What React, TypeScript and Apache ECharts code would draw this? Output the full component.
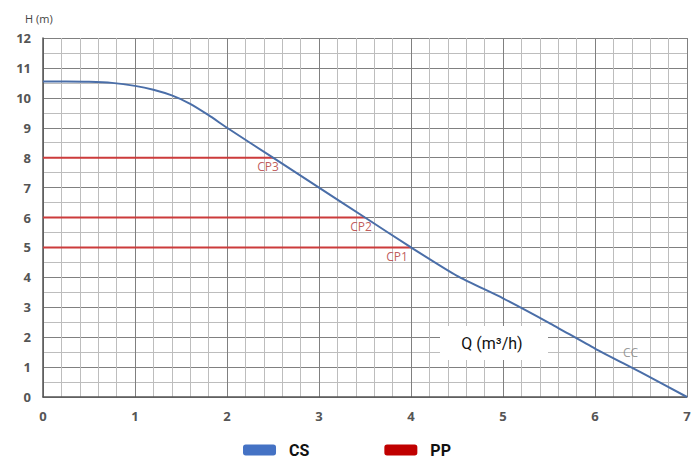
import React, { useEffect, useRef } from "react";
import * as echarts from "echarts";

const csQ = [0, 0.25, 0.5, 0.75, 1, 1.2, 1.4, 1.6, 1.8, 2, 2.5, 3, 3.5, 4, 4.5, 5, 5.5, 6, 6.5, 7];
const csH = [10.55, 10.55, 10.54, 10.5, 10.4, 10.27, 10.08, 9.8, 9.42, 9.0, 8.0, 7.0, 6.0, 5.0, 4.05, 3.3, 2.48, 1.62, 0.82, 0];
const ppH = [8, 6, 5];
const ppQ = [2.5, 3.5, 4];
const ppLabels = ["CP3", "CP2", "CP1"];
const labelOffsets = [[-5, 0], [-4, 0], [-14, 0]];

export default function App() {
  const ref = useRef<HTMLDivElement>(null);
  useEffect(() => {
    const chart = echarts.init(ref.current!, null, { renderer: "svg" });
    const ppSeries = ppH.map((h, i) => ({
      name: "PP",
      type: "line",
      data: [[0, h], [ppQ[i], h]],
      symbol: "none",
      lineStyle: { color: "#cc3b3b", width: 2 },
      itemStyle: { color: "#c00000" },
      z: 3,
    }));
    const labelData = ppLabels.map((l, i) => ({
      value: [ppQ[i], ppH[i]],
      name: l,
      label: { offset: labelOffsets[i] },
    }));
    chart.setOption({
      animation: false,
      grid: { left: 43, right: 7, top: 38, bottom: 62 },
      legend: {
        data: [
          { name: "CS", itemStyle: { color: "#4472c4" } },
          { name: "PP", itemStyle: { color: "#c00000" } },
        ],
        left: "center",
        top: 442,
        padding: 0,
        itemWidth: 33,
        itemHeight: 11,
        itemGap: 75,
        icon: "roundRect",
        textStyle: {
          fontFamily: "Roboto",
          fontWeight: "bold",
          fontSize: 16,
          lineHeight: 16,
          color: "#111",
          padding: [0, 0, 0, 8],
        },
      },
      xAxis: {
        type: "value",
        min: 0,
        max: 7,
        interval: 1,
        axisLine: { show: true, onZero: false, lineStyle: { color: "#555", width: 1.5 } },
        axisTick: { show: false },
        axisLabel: {
          color: "#555",
          fontFamily: "Open Sans",
          fontWeight: "bold",
          fontSize: 13,
          margin: 12,
        },
        splitLine: { show: true, lineStyle: { color: "#808080", width: 1 } },
        minorTick: { show: false, splitNumber: 5 },
        minorSplitLine: { show: true, lineStyle: { color: "#bdbdbd", width: 1 } },
      },
      yAxis: {
        type: "value",
        min: 0,
        max: 12,
        interval: 1,
        name: "H (m)",
        nameLocation: "end",
        nameGap: 14,
        nameTextStyle: { color: "#444", fontFamily: "Open Sans", fontSize: 11, align: "left", padding: [0, 0, 0, -18] },
        axisLine: { show: true, onZero: false, lineStyle: { color: "#555", width: 1.5 } },
        axisTick: { show: false },
        axisLabel: {
          color: "#555",
          fontFamily: "Open Sans",
          fontWeight: "bold",
          fontSize: 13,
          margin: 12,
        },
        splitLine: { show: true, lineStyle: { color: "#808080", width: 1 } },
        minorTick: { show: false, splitNumber: 2 },
        minorSplitLine: { show: true, lineStyle: { color: "#bdbdbd", width: 1 } },
      },
      graphic: [
        {
          type: "rect",
          shape: { x: 440, y: 326, width: 108, height: 34 },
          style: { fill: "#ffffff" },
          z: 100,
        },
        {
          type: "text",
          x: 492,
          y: 343,
          style: {
            text: "Q (m³/h)",
            fill: "#111",
            font: "16px Roboto",
            align: "center",
            verticalAlign: "middle",
          },
          z: 101,
        },
      ],
      series: [
        {
          name: "CS",
          type: "line",
          data: csQ.map((q, i) => [q, csH[i]]),
          symbol: "none",
          smooth: 0.2,
          lineStyle: { color: "#4a6ea8", width: 2 },
          itemStyle: { color: "#4472c4" },
          z: 4,
        },
        ...ppSeries,
        {
          name: "labels",
          type: "scatter",
          data: labelData,
          symbolSize: 0,
          label: {
            show: true,
            formatter: (p: any) => p.name,
            position: "bottom",
            distance: 3,
            color: "#b03030",
            fontFamily: "Open Sans",
            fontSize: 12,
          },
          z: 5,
        },
        {
          name: "cc",
          type: "scatter",
          data: [{ value: [6.3, 1.4], name: "CC" }],
          symbolSize: 0,
          label: {
            show: true,
            formatter: "CC",
            position: "inside",
            offset: [8, -3],
            color: "#808080",
            fontFamily: "Open Sans",
            fontSize: 12,
          },
          z: 5,
        },
      ],
    });
    return () => chart.dispose();
  }, []);
  return <div ref={ref} style={{ width: 694, height: 459, position: "absolute", left: 0, top: 0 }} />;
}
